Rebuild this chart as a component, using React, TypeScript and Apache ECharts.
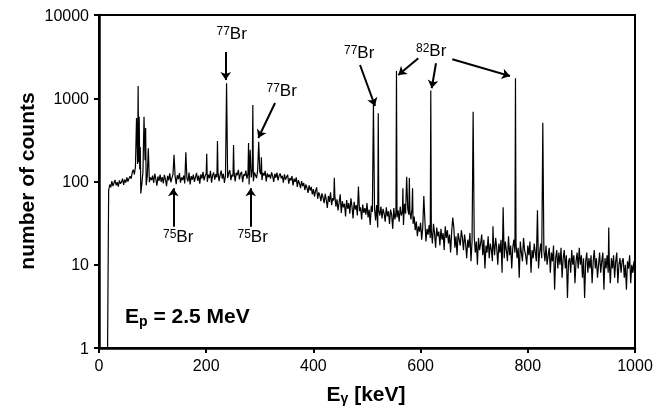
import React, { useEffect, useRef } from 'react';
import * as echarts from 'echarts';

const FONT = "'Liberation Sans', Arial, Helvetica, sans-serif";

// ---- data ----
const xTickValues = [0, 200, 400, 600, 800, 1000];
const yTickValues = [1, 10, 100, 1000, 10000];

// detector threshold edge (keV, counts)
const edgePoints: [number, number][] = [[16, 1]];

// continuum, one value every 2 keV starting at 18 keV
const bgStartKeV = 18;
const bgStepKeV = 2;
const background = [
  78, 92, 85, 101, 88, 96, 104, 90, 98, 87,
  103, 94, 99, 108, 91, 105, 97, 112, 100, 109,
  116, 108, 128, 139, 122, 151, 145, 162, 170, 140,
  72, 95, 130, 120, 180, 90, 115, 150, 98, 112,
  104, 118, 96, 124, 108, 89, 115, 102, 121, 99,
  113, 95, 120, 106, 88, 117, 103, 125, 98, 110,
  121, 100, 115, 93, 119, 107, 126, 97, 112, 104,
  118, 95, 123, 109, 100, 128, 92, 116, 105, 121,
  99, 113, 127, 102, 118, 94, 122, 108, 131, 103,
  117, 125, 99, 121, 110, 134, 97, 119, 128, 105,
  123, 112, 129, 101, 120, 135, 108, 124, 96, 118,
  130, 110, 126, 137, 104, 121, 115, 132, 100, 127,
  119, 138, 106, 124, 131, 98, 122, 117, 135, 108,
  126, 92, 133, 112, 140, 101, 128, 119, 110, 136,
  115, 130, 122, 104, 127, 118, 134, 100, 125, 113,
  121, 108, 129, 116, 99, 124, 111, 128, 103, 118,
  125, 109, 117, 97, 122, 105, 114, 120, 94, 110,
  103, 116, 90, 108, 99, 112, 86, 104, 95, 83,
  101, 88, 96, 79, 92, 84, 73, 90, 78, 86,
  70, 81, 66, 77, 85, 62, 74, 68, 58, 72,
  64, 55, 71, 60, 48, 67, 57, 74, 52, 63,
  59, 68, 50, 61, 45, 56, 70, 42, 58, 49,
  54, 38, 60, 47, 55, 41, 63, 50, 36, 57,
  46, 52, 39, 58, 44, 49, 35, 53, 42, 48,
  40, 55, 37, 46, 30, 51, 43, 38, 48, 34,
  52, 28, 45, 39, 50, 36, 47, 41, 33, 49,
  38, 44, 31, 46, 40, 27, 48, 35, 42, 37,
  45, 33, 50, 39, 43, 30, 54, 41, 36, 47,
  40, 44, 35, 48, 31, 38, 26, 33, 22, 29,
  25, 32, 20, 28, 24, 34, 19, 27, 23, 30,
  21, 26, 18, 31, 24, 16, 28, 22, 25, 17,
  27, 20, 24, 15, 29, 21, 26, 18, 23, 14,
  25, 19, 28, 16, 22, 13, 24, 20, 17, 26,
  21, 15, 23, 18, 12, 20, 16, 24, 11, 19,
  17, 22, 14, 19, 10, 21, 15, 18, 23, 13,
  20, 9, 17, 14, 22, 12, 18, 15, 11, 19,
  13, 21, 16, 10, 18, 14, 20, 8, 17, 12,
  19, 15, 11, 22, 13, 17, 9, 16, 20, 14,
  18, 12, 16, 7, 19, 14, 11, 21, 15, 13,
  10, 17, 13, 19, 8, 15, 12, 18, 14, 11,
  16, 9, 14, 18, 12, 6, 15, 11, 17, 10,
  13, 16, 8, 14, 11, 17, 5, 12, 15, 9,
  14, 10, 16, 7, 12, 15, 9, 13, 4, 11,
  12, 8, 15, 10, 13, 6, 11, 14, 9, 16,
  10, 13, 7, 12, 4, 11, 14, 8, 12, 9,
  13, 6, 11, 15, 9, 12, 7, 10, 14, 8,
  11, 14, 5, 12, 9, 13, 8, 11, 6, 12,
  9, 13, 7, 11, 14, 6, 10, 12, 8, 11,
  12, 7, 10, 5, 11, 9, 13, 6, 10, 8,
  11, 7,
];

// gamma lines (keV, counts)
const peaks: [number, number][] = [
  [70, 580], [73, 1400], [75, 600], [77, 260], [84, 600], [85, 300], [87, 440], [92, 250],
  [140, 210], [162, 225], [201, 215], [221, 306], [238, 1510], [251, 275], [279, 290],
  [282, 240], [287, 830], [298, 300], [303, 195], [439, 111], [484, 87], [512, 870],
  [521, 660], [555, 2120], [567, 83], [574, 114], [579, 110], [585, 83], [606, 67],
  [619, 1240], [660, 37], [698, 690], [735, 29], [754, 49], [777, 1740], [818, 45],
  [828, 508], [951, 28],
];

// annotation arrows in data space: [fromKeV, fromCounts, toKeV, toCounts]
const arrows: [number, number, number, number][] = [
  [236.4, 3594, 236.4, 1656],
  [328.4, 877, 297.2, 333],
  [138.6, 28.6, 138.6, 82.9],
  [283, 28.6, 283, 82.9],
  [487, 2507, 515, 807],
  [595.7, 3020, 558.4, 1902],
  [628.7, 2630, 620.7, 1318],
  [659.1, 2938, 766.8, 1850],
];

const isotopeMass = ['77', '77', '75', '75', '77', '82'];

function buildSpectrum(): [number, number][] {
  const map = new Map<number, number>();
  background.forEach((v, i) => map.set(bgStartKeV + i * bgStepKeV, v));
  peaks.forEach(([e, c]) => map.set(e, c));
  edgePoints.forEach(([e, c]) => map.set(e, c));
  return Array.from(map.entries()).sort((a, b) => a[0] - b[0]);
}

// label placement (pixels)
const labelPos = [
  { x: 216.5, y: 25 },
  { x: 266.5, y: 81.5 },
  { x: 163, y: 228 },
  { x: 237.5, y: 228 },
  { x: 344, y: 43.5 },
  { x: 416, y: 42 },
];

export default function App() {
  const ref = useRef<HTMLDivElement>(null);
  useEffect(() => {
    const chart = echarts.init(ref.current!, null, { renderer: 'svg' });
    const isoRich = {
      s: { fontSize: 12, lineHeight: 12, verticalAlign: 'top', fontFamily: FONT, fill: '#000', color: '#000' },
      b: { fontSize: 17, lineHeight: 26, verticalAlign: 'top', fontFamily: FONT, fill: '#000', color: '#000' },
    };
    const graphics: any[] = isotopeMass.map((m, i) => ({
      type: 'text',
      x: labelPos[i].x,
      y: labelPos[i].y,
      silent: true,
      style: {
        text: `{s|${m}}{b|Br}`,
        rich: isoRich,
        align: 'left',
        verticalAlign: 'top',
        fill: '#000',
      },
    }));
    const subRich = (key: string, drop: number) => ({
      a: { fontSize: 21, fontWeight: 'bold', lineHeight: 21, verticalAlign: 'top', fontFamily: FONT, fill: '#000' },
      [key]: { fontSize: 14, fontWeight: 'bold', lineHeight: 14, padding: [drop, 0, 0, 0], verticalAlign: 'top', fontFamily: FONT, fill: '#000' },
    });
    graphics.push({
      type: 'text',
      x: 125,
      y: 304.5,
      silent: true,
      style: {
        text: '{a|E}{p|p}{a| = 2.5 MeV}',
        rich: subRich('p', 9),
        align: 'left',
        verticalAlign: 'top',
        fill: '#000',
      },
    });
    graphics.push({
      type: 'text',
      x: 366,
      y: 383,
      silent: true,
      style: {
        text: '{a|E}{g|γ}{a| [keV]}',
        rich: subRich('g', 8),
        align: 'center',
        verticalAlign: 'top',
        fill: '#000',
      },
    });
    graphics.push({
      type: 'text',
      x: 26,
      y: 181,
      rotation: Math.PI / 2,
      silent: true,
      style: {
        text: 'number of counts',
        fontSize: 21,
        fontWeight: 'bold',
        fontFamily: FONT,
        fill: '#000',
        align: 'center',
        verticalAlign: 'middle',
      },
    });

    chart.setOption({
      animation: false,
      grid: {
        left: 99, right: 29, top: 15, bottom: 60,
        show: true, borderColor: '#000', borderWidth: 2, backgroundColor: 'transparent',
      },
      xAxis: {
        type: 'value',
        min: xTickValues[0],
        max: xTickValues[xTickValues.length - 1],
        interval: xTickValues[1] - xTickValues[0],
        axisLine: { show: true, onZero: false, lineStyle: { color: '#000', width: 2.5 } },
        axisTick: { show: true, inside: false, length: 5, lineStyle: { color: '#000', width: 2 } },
        axisLabel: {
          color: '#000', fontSize: 16, fontFamily: FONT, margin: 9,
          formatter: (v: number) => String(Math.round(v)),
        },
        splitLine: { show: false },
      },
      yAxis: {
        type: 'log',
        logBase: 10,
        min: yTickValues[0],
        max: yTickValues[yTickValues.length - 1],
        axisLine: { show: true, lineStyle: { color: '#000', width: 2.5 } },
        axisTick: { show: true, inside: false, length: 5, lineStyle: { color: '#000', width: 2 } },
        axisLabel: {
          color: '#000', fontSize: 16, fontFamily: FONT, margin: 10,
          formatter: (v: number) => String(Math.round(v)),
        },
        splitLine: { show: false },
        minorTick: { show: false },
      },
      series: [
        {
          type: 'line',
          data: buildSpectrum(),
          symbol: 'none',
          showSymbol: false,
          lineStyle: { color: '#000', width: 1.2 },
          silent: true,
          markLine: {
            silent: true,
            symbol: ['none', 'arrow'],
            symbolSize: 8,
            label: { show: false },
            lineStyle: { color: '#000', width: 2, type: 'solid' },
            emphasis: { disabled: true },
            data: arrows.map(([x1, y1, x2, y2]) => [
              { coord: [x1, y1] },
              { coord: [x2, y2] },
            ]),
          },
        },
      ],
      graphic: graphics,
    });
    return () => chart.dispose();
  }, []);
  return <div ref={ref} style={{ position: 'fixed', left: 0, top: 0, width: 664, height: 408 }} />;
}
